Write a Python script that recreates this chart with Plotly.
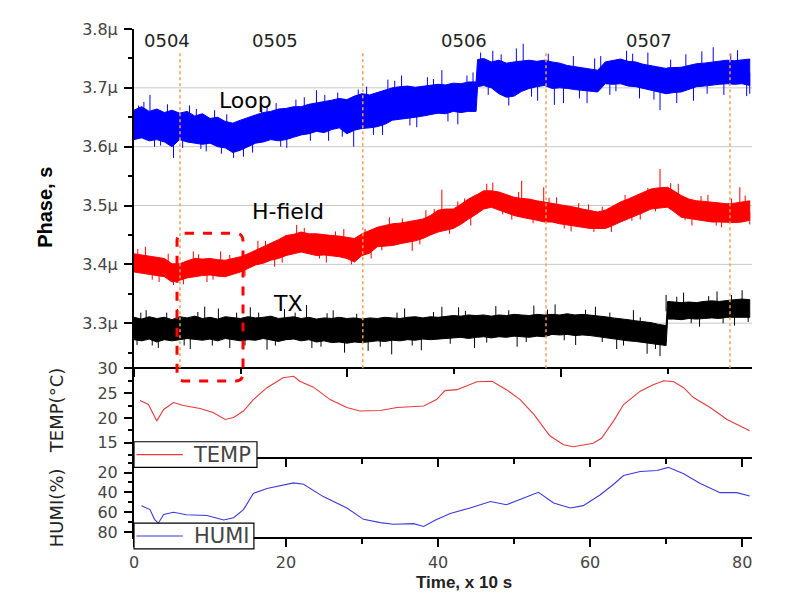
import plotly.graph_objects as go

# ---------------- data ----------------
time = [0, 1, 2, 3, 4, 5, 6, 7, 8, 9,
        10, 11, 12, 13, 14, 15, 16, 17, 18, 19,
        20, 21, 22, 23, 24, 25, 26, 27, 28, 29,
        30, 31, 32, 33, 34, 35, 36, 37, 38, 39,
        40, 41, 42, 43, 44, 45,
        45.2,
        46, 47, 48, 49, 50, 51, 52, 53, 54, 55,
        56, 57, 58, 59, 60, 61, 62, 63, 64, 65,
        66, 67, 68, 69, 70,
        70.2,
        71, 72, 73, 74, 75, 76, 77, 78, 79, 80, 81]

loop_hi = [3.662, 3.668, 3.660, 3.664, 3.658, 3.662, 3.657, 3.660, 3.652, 3.656,
           3.648, 3.650, 3.643, 3.640, 3.645, 3.650, 3.654, 3.658, 3.660, 3.664,
           3.665, 3.668, 3.668, 3.672, 3.674, 3.676, 3.679, 3.682, 3.680, 3.686,
           3.690, 3.688, 3.692, 3.695, 3.700, 3.702, 3.703, 3.701, 3.703, 3.704,
           3.706, 3.705, 3.708, 3.707, 3.710, 3.710,
           3.748,
           3.750, 3.744, 3.747, 3.742, 3.744, 3.746, 3.747, 3.745, 3.747, 3.744,
           3.742, 3.738, 3.736, 3.733, 3.732, 3.730, 3.744, 3.747, 3.749, 3.745,
           3.744, 3.740, 3.738, 3.736, 3.733,
           3.734,
           3.735, 3.735, 3.738, 3.741, 3.742, 3.744, 3.745, 3.747, 3.746, 3.747, 3.749]
loop_lo = [3.612, 3.615, 3.610, 3.612, 3.608, 3.600, 3.612, 3.608, 3.606, 3.604,
           3.606, 3.600, 3.598, 3.590, 3.594, 3.600, 3.606, 3.608, 3.612, 3.610,
           3.612, 3.616, 3.620, 3.622, 3.626, 3.624, 3.629, 3.632, 3.622, 3.628,
           3.631, 3.632, 3.634, 3.638, 3.645, 3.646, 3.648, 3.650, 3.652, 3.654,
           3.657, 3.656, 3.660, 3.658, 3.660, 3.660,
           3.702,
           3.704, 3.700, 3.690, 3.684, 3.686, 3.694, 3.699, 3.702, 3.704, 3.699,
           3.700, 3.699, 3.697, 3.696, 3.694, 3.693, 3.707, 3.706, 3.707, 3.703,
           3.702, 3.698, 3.696, 3.693, 3.690,
           3.690,
           3.692, 3.693, 3.697, 3.702, 3.703, 3.704, 3.706, 3.707, 3.706, 3.707, 3.704]

hfield_hi = [3.418, 3.416, 3.415, 3.412, 3.410, 3.401, 3.401, 3.406, 3.410, 3.409,
             3.410, 3.408, 3.407, 3.410, 3.413, 3.418, 3.424, 3.430, 3.435, 3.442,
             3.449, 3.451, 3.455, 3.452, 3.452, 3.450, 3.449, 3.448, 3.446, 3.444,
             3.452, 3.457, 3.463, 3.466, 3.469, 3.470, 3.472, 3.474, 3.477, 3.483,
             3.492, 3.494, 3.494, 3.502, 3.511, 3.518,
             3.519,
             3.525, 3.525, 3.523, 3.519, 3.514, 3.512, 3.511, 3.508, 3.506, 3.503,
             3.501, 3.500, 3.497, 3.494, 3.492, 3.489, 3.492, 3.499, 3.506, 3.511,
             3.517, 3.522, 3.528, 3.530, 3.531,
             3.531,
             3.525, 3.517, 3.511, 3.508, 3.507, 3.506, 3.505, 3.503, 3.504, 3.506, 3.508]
hfield_lo = [3.387, 3.385, 3.382, 3.381, 3.379, 3.370, 3.373, 3.377, 3.379, 3.381,
             3.382, 3.380, 3.379, 3.383, 3.387, 3.393, 3.399, 3.402, 3.407, 3.410,
             3.415, 3.418, 3.421, 3.418, 3.415, 3.416, 3.415, 3.413, 3.410, 3.404,
             3.415, 3.419, 3.430, 3.431, 3.432, 3.435, 3.438, 3.440, 3.444, 3.450,
             3.455, 3.458, 3.461, 3.468, 3.477, 3.485,
             3.486,
             3.494, 3.497, 3.492, 3.488, 3.483, 3.480, 3.477, 3.475, 3.472, 3.472,
             3.469, 3.466, 3.465, 3.463, 3.461, 3.461, 3.461, 3.466, 3.472, 3.478,
             3.483, 3.488, 3.494, 3.496, 3.497,
             3.497,
             3.490, 3.480, 3.478, 3.477, 3.474, 3.472, 3.472, 3.472, 3.471, 3.472, 3.475]

tx_hi = [3.310, 3.307, 3.311, 3.308, 3.310, 3.306, 3.311, 3.309, 3.312, 3.308,
         3.310, 3.307, 3.311, 3.309, 3.308, 3.311, 3.309, 3.310, 3.312, 3.308,
         3.310, 3.311, 3.308, 3.310, 3.307, 3.309, 3.308, 3.310, 3.308, 3.309,
         3.307, 3.309, 3.308, 3.310, 3.309, 3.308, 3.310, 3.311, 3.309, 3.311,
         3.310, 3.312, 3.313, 3.312, 3.314, 3.313,
         3.313,
         3.314, 3.312, 3.314, 3.313, 3.315, 3.314, 3.313, 3.315, 3.314, 3.315,
         3.314, 3.316, 3.314, 3.315, 3.314, 3.313, 3.311, 3.309, 3.308, 3.306,
         3.304, 3.303, 3.301, 3.298, 3.296,
         3.337,
         3.336, 3.335, 3.336, 3.335, 3.337, 3.338, 3.337, 3.339, 3.340, 3.341, 3.340]
tx_lo = [3.272, 3.270, 3.273, 3.268, 3.272, 3.270, 3.272, 3.274, 3.272, 3.271,
         3.273, 3.270, 3.274, 3.272, 3.270, 3.272, 3.271, 3.274, 3.272, 3.269,
         3.272, 3.273, 3.270, 3.272, 3.268, 3.270, 3.267, 3.268, 3.266, 3.268,
         3.267, 3.269, 3.270, 3.269, 3.271, 3.270, 3.272, 3.271, 3.273, 3.272,
         3.273, 3.274, 3.275, 3.276, 3.274, 3.276,
         3.276,
         3.277, 3.275, 3.277, 3.276, 3.278, 3.277, 3.276, 3.278, 3.277, 3.281,
         3.280, 3.281, 3.279, 3.280, 3.279, 3.278, 3.275, 3.273, 3.272, 3.270,
         3.269, 3.267, 3.266, 3.264, 3.262,
         3.307,
         3.307, 3.306, 3.308, 3.307, 3.308, 3.309, 3.308, 3.310, 3.311, 3.310, 3.310]

# isolated noise spikes: time, band value at the foot, tip value
loop_spike_t = [0.6, 2.1, 3.5, 5.2, 7.3, 8.8, 10.6, 11.5, 13.1, 15.6, 16.8, 18.7, 20.1, 22.4,
                24.0, 25.6, 26.8, 28.9, 30.6, 32.7, 33.4, 35.2, 37.2, 38.6, 40.5, 42.6,
                43.8, 44.6, 46.6, 47.2, 49.3, 50.3, 51.2, 53.1, 55.3, 56.5, 57.8, 59.6,
                60.6, 62.6, 64.8, 66.5, 67.6, 69.2, 71.4, 72.6, 73.6, 74.7, 76.2, 77.6,
                79.4, 80.6,
                1.3, 2.7, 4.4, 6.4, 8.2, 9.5, 12.2, 14.4, 17.5, 19.3, 21.3, 23.2, 25.1,
                27.4, 29.5, 31.5, 34.3, 36.3, 39.4, 41.3, 45.6, 48.3, 52.3, 54.5, 58.6,
                61.4, 63.4, 65.6, 68.4, 70.6, 75.4, 78.5, 81.0]
loop_spike_base = [3.640, 3.640, 3.636, 3.630, 3.632, 3.630, 3.626, 3.620, 3.615, 3.625,
                   3.630, 3.635, 3.635, 3.645, 3.650, 3.650, 3.655, 3.650, 3.660, 3.665,
                   3.665, 3.675, 3.675, 3.678, 3.680, 3.682, 3.685, 3.685, 3.725, 3.725,
                   3.715, 3.715, 3.720, 3.725, 3.720, 3.720, 3.715, 3.712, 3.712, 3.725,
                   3.725, 3.722, 3.720, 3.712, 3.712, 3.715, 3.718, 3.722, 3.725, 3.725,
                   3.726, 3.726,
                   3.640, 3.635, 3.635, 3.635, 3.630, 3.630, 3.620, 3.620, 3.633, 3.637,
                   3.642, 3.647, 3.650, 3.656, 3.657, 3.660, 3.672, 3.675, 3.679, 3.681,
                   3.725, 3.718, 3.722, 3.724, 3.716, 3.720, 3.726, 3.724, 3.716, 3.712,
                   3.722, 3.726, 3.726]
loop_spike_tip = [3.670, 3.688, 3.602, 3.581, 3.670, 3.596, 3.662, 3.588, 3.581, 3.590,
                  3.667, 3.674, 3.598, 3.684, 3.696, 3.610, 3.692, 3.600, 3.702, 3.620,
                  3.714, 3.721, 3.633, 3.718, 3.730, 3.638, 3.721, 3.726, 3.688, 3.763,
                  3.670, 3.767, 3.775, 3.678, 3.671, 3.674, 3.754, 3.674, 3.750, 3.688,
                  3.763, 3.682, 3.760, 3.662, 3.674, 3.757, 3.678, 3.762, 3.769, 3.688,
                  3.764, 3.686,
                  3.676, 3.600, 3.672, 3.598, 3.664, 3.592, 3.655, 3.583, 3.670, 3.600,
                  3.680, 3.610, 3.688, 3.617, 3.697, 3.620, 3.712, 3.636, 3.715, 3.643,
                  3.760, 3.757, 3.685, 3.758, 3.682, 3.754, 3.694, 3.758, 3.680, 3.748,
                  3.690, 3.758, 3.690]

hfield_spike_t = [1.5, 3.3, 5.2, 7.8, 9.6, 11.4, 16.3, 18.5, 21.4, 25.3, 27.6, 31.2, 33.6,
                  36.6, 38.4, 40.5, 42.6, 44.3, 46.4, 47.2, 49.7, 51.0, 53.9, 55.6, 57.5,
                  59.8, 62.8, 64.6, 66.6, 69.2, 71.6, 73.4, 75.5, 77.3, 79.7, 80.4,
                  0.5, 2.4, 4.5, 6.5, 8.5, 10.4, 12.6, 14.6, 17.3, 19.5, 22.4, 24.4, 26.5,
                  28.6, 30.4, 32.6, 35.3, 37.6, 39.5, 41.5, 43.5, 48.5, 50.6, 52.5, 54.6,
                  56.6, 58.5, 60.5, 61.6, 65.5, 67.6, 68.6, 70.6, 72.5, 74.6, 76.6, 78.6, 81.0]
hfield_spike_base = [3.400, 3.396, 3.385, 3.393, 3.395, 3.393, 3.410, 3.420, 3.435, 3.432,
                     3.430, 3.438, 3.450, 3.455, 3.460, 3.470, 3.478, 3.494, 3.510, 3.510,
                     3.500, 3.500, 3.490, 3.487, 3.483, 3.478, 3.482, 3.490, 3.500, 3.515,
                     3.505, 3.494, 3.490, 3.488, 3.490, 3.490,
                     3.402, 3.398, 3.393, 3.387, 3.394, 3.396, 3.393, 3.400, 3.416, 3.426,
                     3.438, 3.433, 3.432, 3.428, 3.433, 3.447, 3.452, 3.457, 3.467, 3.476,
                     3.486, 3.508, 3.498, 3.494, 3.489, 3.485, 3.481, 3.477, 3.475, 3.495,
                     3.505, 3.512, 3.512, 3.498, 3.492, 3.489, 3.488, 3.490]
hfield_spike_tip = [3.430, 3.370, 3.365, 3.422, 3.370, 3.422, 3.440, 3.396, 3.467, 3.403,
                    3.460, 3.410, 3.480, 3.423, 3.492, 3.527, 3.507, 3.466, 3.537, 3.539,
                    3.476, 3.542, 3.531, 3.514, 3.456, 3.502, 3.455, 3.518, 3.476, 3.562,
                    3.537, 3.466, 3.518, 3.463, 3.531, 3.517,
                    3.426, 3.374, 3.418, 3.366, 3.417, 3.374, 3.416, 3.380, 3.440, 3.403,
                    3.462, 3.410, 3.456, 3.400, 3.460, 3.424, 3.478, 3.434, 3.494, 3.452,
                    3.512, 3.485, 3.523, 3.470, 3.513, 3.461, 3.504, 3.455, 3.498, 3.474,
                    3.530, 3.490, 3.538, 3.475, 3.516, 3.466, 3.512, 3.468]

tx_spike_t = [0.4, 1.6, 3.2, 5.7, 7.4, 9.3, 11.1, 12.6, 15.3, 17.5, 19.8, 22.7, 23.4, 26.2,
              27.7, 30.8, 33.9, 35.6, 37.8, 40.5, 42.7, 44.8, 47.6, 50.4, 52.6, 55.4, 58.1,
              60.7, 63.5, 65.7, 67.5, 69.2, 70.0, 72.3, 74.4, 76.7, 79.0, 80.0,
              0.9, 2.4, 4.3, 6.6, 8.4, 10.3, 13.5, 14.6, 16.4, 18.6, 21.2, 24.6, 25.4,
              29.3, 32.4, 34.6, 36.6, 39.4, 41.6, 43.6, 46.4, 49.3, 51.6, 54.4, 56.6,
              59.4, 61.6, 62.6, 64.4, 66.6, 68.6, 71.4, 73.3, 75.6, 77.5, 78.6, 80.8]
tx_spike_base = [3.290, 3.290, 3.290, 3.290, 3.290, 3.290, 3.290, 3.290, 3.290, 3.290,
                 3.290, 3.290, 3.290, 3.288, 3.288, 3.288, 3.290, 3.289, 3.290, 3.292,
                 3.293, 3.294, 3.295, 3.296, 3.296, 3.297, 3.297, 3.296, 3.292, 3.288,
                 3.285, 3.280, 3.320, 3.322, 3.322, 3.323, 3.325, 3.325,
                 3.290, 3.290, 3.290, 3.290, 3.290, 3.290, 3.290, 3.290, 3.290, 3.290,
                 3.290, 3.288, 3.288, 3.288, 3.289, 3.289, 3.290, 3.291, 3.293, 3.294,
                 3.295, 3.295, 3.296, 3.297, 3.297, 3.297, 3.295, 3.293, 3.290, 3.286,
                 3.283, 3.322, 3.322, 3.323, 3.324, 3.325, 3.325]
tx_spike_tip = [3.263, 3.322, 3.258, 3.324, 3.256, 3.328, 3.325, 3.258, 3.327, 3.255,
                3.324, 3.331, 3.258, 3.322, 3.250, 3.253, 3.247, 3.325, 3.254, 3.328,
                3.327, 3.258, 3.329, 3.260, 3.330, 3.332, 3.263, 3.328, 3.256, 3.322,
                3.248, 3.244, 3.348, 3.352, 3.294, 3.354, 3.296, 3.356,
                3.318, 3.262, 3.318, 3.262, 3.319, 3.262, 3.318, 3.262, 3.318, 3.262,
                3.318, 3.260, 3.317, 3.316, 3.260, 3.318, 3.262, 3.319, 3.265, 3.321,
                3.267, 3.322, 3.268, 3.323, 3.271, 3.323, 3.268, 3.318, 3.262, 3.310,
                3.256, 3.345, 3.300, 3.346, 3.300, 3.348, 3.302]

temp_t = [0.8, 1.9, 3.0, 3.9, 5.2, 6.5, 8.7, 10.4, 12.0, 13.1, 14.4, 15.7, 17.5, 19.6, 21.0,
          21.8, 23.6, 25.8, 28.0, 29.7, 32.4, 34.6, 38.1, 39.8, 40.9, 42.5, 45.1, 47.1, 49.0,
          50.8, 52.6, 54.7, 56.5, 57.8, 60.4, 61.5, 63.1, 64.4, 66.6, 68.3, 69.7, 71.0, 72.3,
          73.6, 75.8, 78.0, 81.0]
temp_v = [23.5, 22.7, 19.4, 21.7, 23.1, 22.5, 21.9, 21.1, 19.7, 20.1, 21.4, 23.7, 26.1, 28.1, 28.4,
          27.4, 26.2, 23.7, 22.1, 21.4, 21.5, 22.1, 22.4, 23.7, 25.5, 25.7, 27.3, 27.4, 25.7,
          23.7, 20.7, 16.4, 14.6, 14.2, 14.9, 15.9, 19.4, 22.7, 25.4, 26.7, 27.5, 27.3, 26.1,
          24.1, 22.1, 19.7, 17.4]

humi_t = [1.0, 2.1, 2.7, 3.2, 3.9, 5.2, 6.9, 9.6, 11.8, 13.1, 14.4, 15.7, 17.5, 19.6, 21.0,
          22.3, 24.9, 28.0, 30.2, 32.4, 34.1, 36.8, 38.1, 39.6, 41.6, 44.2, 46.9, 49.0, 51.7,
          53.2, 55.2, 57.4, 59.1, 61.3, 63.1, 64.4, 66.6, 68.8, 70.3, 72.3, 74.5, 77.1, 79.3, 81.0]
humi_v = [53.4, 57.4, 67.2, 71.1, 62.3, 60.0, 62.6, 63.3, 67.9, 65.6, 57.4, 41.0, 36.1, 32.8, 30.5,
          31.8, 44.3, 55.7, 67.2, 70.5, 72.1, 71.5, 74.4, 68.2, 61.3, 55.7, 49.2, 52.5, 44.9,
          40.0, 50.8, 55.7, 53.4, 42.6, 31.8, 23.0, 19.0, 18.0, 14.8, 21.3, 31.1, 40.3, 40.3, 43.6]

day_marks = [6.05, 30.1, 54.2, 78.4]
day_label_t = [4.34, 18.5, 43.4, 67.8]
day_labels = ["0504", "0505", "0506", "0507"]
grid_vals = [3.3, 3.4, 3.5, 3.6, 3.7]
trace_names = ["Loop", "H-field", "TX"]
trace_label_t = [14.7, 20.3, 20.3]
trace_label_v = [3.679, 3.490, 3.333]
box_t = [5.66, 14.34]

# ---------------- figure ----------------
FONT = "DejaVu Sans"
TICKC = "#444444"
fig = go.Figure()


def band(hi, lo, color):
    fig.add_trace(go.Scatter(x=time + time[::-1], y=hi + lo[::-1], mode="lines",
                             fill="toself", fillcolor=color,
                             line=dict(color=color, width=1),
                             xaxis="x", yaxis="y", showlegend=False, hoverinfo="skip"))


def spikes(ts, base, tip, color):
    xs, ys = [], []
    for t, b, p in zip(ts, base, tip):
        xs += [t, t, None]
        ys += [b, p, None]
    fig.add_trace(go.Scatter(x=xs, y=ys, mode="lines", line=dict(color=color, width=1),
                             xaxis="x", yaxis="y", showlegend=False, hoverinfo="skip"))


band(loop_hi, loop_lo, "#0000ff")
spikes(loop_spike_t, loop_spike_base, loop_spike_tip, "#0000ff")
band(hfield_hi, hfield_lo, "#ff0000")
spikes(hfield_spike_t, hfield_spike_base, hfield_spike_tip, "#ff0000")
band(tx_hi, tx_lo, "#000000")
spikes(tx_spike_t, tx_spike_base, tx_spike_tip, "#000000")

fig.add_trace(go.Scatter(x=temp_t, y=temp_v, mode="lines", line=dict(color="#e83a3a", width=1.1),
                         xaxis="x2", yaxis="y2", showlegend=False))
fig.add_trace(go.Scatter(x=humi_t, y=humi_v, mode="lines", line=dict(color="#3a3ae0", width=1.1),
                         xaxis="x3", yaxis="y3", showlegend=False))

XR = [0, 81.3]
common_ax = dict(showline=True, linecolor="black", linewidth=2, ticks="outside",
                 tickcolor="black", tickwidth=2, ticklen=8, showgrid=False, zeroline=False,
                 tickfont=dict(family=FONT, size=16, color=TICKC))

fig.update_layout(
    width=793, height=589,
    margin=dict(l=126, r=49, t=17, b=60),
    paper_bgcolor="white", plot_bgcolor="white",
    font=dict(family=FONT, color="#222"),
    xaxis=dict(domain=[0, 1], anchor="y", range=XR, tick0=0, dtick=28.08,
               showticklabels=False,
               minor=dict(dtick=14.04, ticks="outside", ticklen=5, tickwidth=2, tickcolor="black"),
               **common_ax),
    xaxis2=dict(domain=[0, 1], anchor="y2", range=XR, tick0=0, dtick=20,
                showticklabels=False,
                minor=dict(dtick=10, ticks="outside", ticklen=5, tickwidth=2, tickcolor="black"),
                **common_ax),
    xaxis3=dict(domain=[0, 1], anchor="y3", range=XR, tick0=0, dtick=20, ticklabelstandoff=2,
                minor=dict(dtick=10, ticks="outside", ticklen=5, tickwidth=2, tickcolor="black"),
                **common_ax),
    yaxis=dict(domain=[0.334, 1], anchor="x", range=[3.225, 3.8], tick0=3.3, dtick=0.1,
               tickformat=".1f", ticksuffix="µ", ticklabelstandoff=3,
               minor=dict(dtick=0.05, ticks="outside", ticklen=4, tickwidth=2, tickcolor="black"),
               **common_ax),
    yaxis2=dict(domain=[0.1582, 0.334], anchor="x2", range=[12.2, 30.2], tick0=0, dtick=5,
                ticklabelstandoff=3,
                minor=dict(dtick=2.5, ticks="outside", ticklen=4, tickwidth=2, tickcolor="black"),
                **common_ax),
    yaxis3=dict(domain=[0, 0.1582], anchor="x3", range=[85, 4], tick0=0, dtick=20,
                ticklabelstandoff=3,
                minor=dict(dtick=10, ticks="outside", ticklen=4, tickwidth=2, tickcolor="black"),
                **common_ax),
)

shapes = []
for g in grid_vals:
    shapes.append(dict(type="line", xref="paper", yref="y", x0=0, x1=1, y0=g, y1=g,
                       line=dict(color="#c8c8c8", width=1), layer="below"))
for d in day_marks:
    shapes.append(dict(type="line", xref="x", yref="paper", x0=d, x1=d, y0=0.332, y1=0.957,
                       line=dict(color="#f0a050", width=1.5, dash="dot"), layer="above"))

# rounded dashed highlight box
x0, x1 = box_t
y0, y1 = 0.307, 0.598
rx, ry = 1.05, 0.0156
path = (f"M {x0+rx},{y1} L {x1-rx},{y1} Q {x1},{y1} {x1},{y1-ry} "
        f"L {x1},{y0+ry} Q {x1},{y0} {x1-rx},{y0} L {x0+rx},{y0} "
        f"Q {x0},{y0} {x0},{y0+ry} L {x0},{y1-ry} Q {x0},{y1} {x0+rx},{y1} Z")
shapes.append(dict(type="path", xref="x", yref="paper", path=path,
                   line=dict(color="#ff0000", width=3, dash="dash")))

# legend boxes
shapes.append(dict(type="rect", xref="paper", yref="paper", x0=0, x1=0.199, y0=0.137, y1=0.1875,
                   line=dict(color="black", width=1.2), fillcolor="white", layer="above"))
shapes.append(dict(type="line", xref="paper", yref="paper", x0=0.004, x1=0.079, y0=0.162, y1=0.162,
                   line=dict(color="#e83a3a", width=1.2)))
shapes.append(dict(type="rect", xref="paper", yref="paper", x0=0, x1=0.194, y0=-0.0234, y1=0.0273,
                   line=dict(color="black", width=1.2), fillcolor="white", layer="above"))
shapes.append(dict(type="line", xref="paper", yref="paper", x0=0.004, x1=0.079, y0=0.002, y1=0.002,
                   line=dict(color="#3a3ae0", width=1.2)))
fig.update_layout(shapes=shapes)

C = dict(showarrow=False, xanchor="center", yanchor="middle")
ann = []
for t, lab in zip(day_label_t, day_labels):
    ann.append(dict(x=t, y=0.978, xref="x", yref="paper", text=lab,
                    font=dict(family=FONT, size=18, color="#222"), **C))
for t, v, lab in zip(trace_label_t, trace_label_v, trace_names):
    ann.append(dict(x=t, y=v, xref="x", yref="y", text=lab,
                    font=dict(family=FONT, size=22, color="black"), **C))
ann.append(dict(x=0.1416, y=0.162, xref="paper", yref="paper", text="TEMP",
                font=dict(family=FONT, size=21, color=TICKC), **C))
ann.append(dict(x=0.141, y=0.002, xref="paper", yref="paper", text="HUMI",
                font=dict(family=FONT, size=21, color=TICKC), **C))
ann.append(dict(x=-0.144, y=0.648, xref="paper", yref="paper", text="<b>Phase, s</b>", textangle=-90,
                font=dict(family="Liberation Sans", size=20, color="black"), **C))
ann.append(dict(x=-0.126, y=0.248, xref="paper", yref="paper", text="TEMP(°C)", textangle=-90,
                font=dict(family=FONT, size=18, color="#222"), **C))
ann.append(dict(x=-0.126, y=0.057, xref="paper", yref="paper", text="HUMI(%)", textangle=-90,
                font=dict(family=FONT, size=18, color="#222"), **C))
ann.append(dict(x=0.534, y=-0.090, xref="paper", yref="paper", text="<b>Time, x 10 s</b>",
                font=dict(family="Liberation Sans", size=17, color="#222"), **C))
fig.update_layout(annotations=ann)

fig.write_html("out.html")
